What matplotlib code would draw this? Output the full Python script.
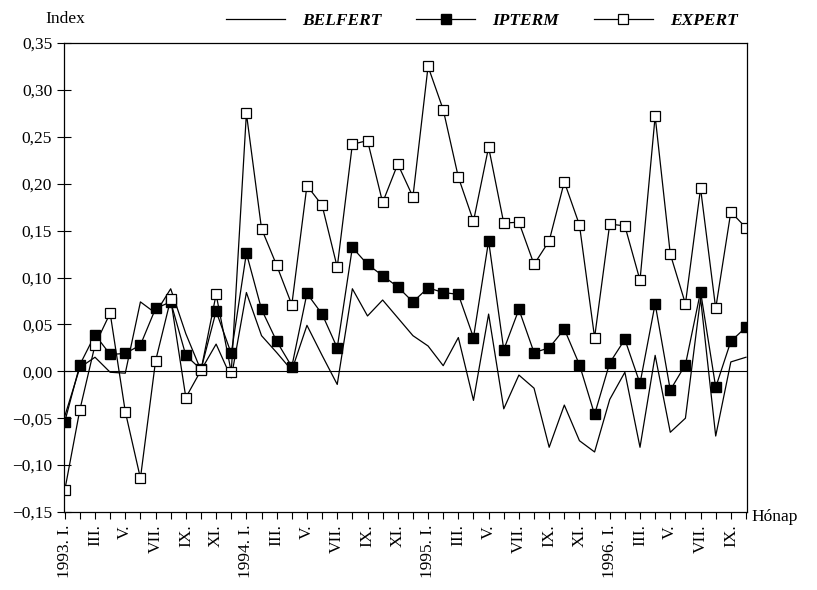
import matplotlib.pyplot as plt
import numpy as np

plt.rcParams['font.family'] = ['Liberation Serif', 'DejaVu Serif']

# monthly index values, 1993 I .. 1996 X
belfert = [-0.048, 0.004, 0.015, -0.001, -0.002, 0.074, 0.062, 0.088, 0.040, 0.001,
           0.029, -0.007, 0.084, 0.038, 0.020, 0.001, 0.049, 0.017, -0.014, 0.088,
           0.059, 0.076, 0.057, 0.038, 0.027, 0.006, 0.036, -0.031, 0.061, -0.040,
           -0.004, -0.018, -0.081, -0.036, -0.074, -0.086, -0.030, -0.001, -0.081, 0.017,
           -0.065, -0.050, 0.078, -0.069, 0.010, 0.015]
ipterm = [-0.054, 0.007, 0.039, 0.018, 0.019, 0.028, 0.067, 0.074, 0.017, 0.002,
          0.064, 0.019, 0.126, 0.066, 0.032, 0.005, 0.083, 0.061, 0.025, 0.132,
          0.114, 0.102, 0.090, 0.074, 0.089, 0.084, 0.082, 0.036, 0.139, 0.023,
          0.066, 0.020, 0.025, 0.045, 0.007, -0.046, 0.009, 0.034, -0.013, 0.072,
          -0.020, 0.007, 0.085, -0.017, 0.032, 0.047]
expert = [-0.127, -0.041, 0.028, 0.062, -0.043, -0.114, 0.011, 0.077, -0.028, 0.001,
          0.082, -0.001, 0.275, 0.152, 0.113, 0.071, 0.198, 0.177, 0.111, 0.242,
          0.246, 0.180, 0.221, 0.186, 0.325, 0.279, 0.207, 0.160, 0.239, 0.158,
          0.159, 0.114, 0.139, 0.202, 0.156, 0.036, 0.157, 0.155, 0.097, 0.272,
          0.125, 0.072, 0.195, 0.067, 0.170, 0.153]

roman = ['I.', 'II.', 'III.', 'IV.', 'V.', 'VI.', 'VII.', 'VIII.', 'IX.', 'X.', 'XI.', 'XII.']
years = [1993, 1994, 1995, 1996]
yticks = [-0.15, -0.10, -0.05, 0.00, 0.05, 0.10, 0.15, 0.20, 0.25, 0.30, 0.35]

x = np.arange(len(belfert))
labels = []
for i in x:
    m = roman[i % 12]
    if i % 12 == 0:
        labels.append('%d. %s' % (years[i // 12], m))
    elif i % 2 == 0:
        labels.append(m)
    else:
        labels.append('')

fig = plt.figure(figsize=(8.17, 5.90), dpi=100)
ax = fig.add_axes([0.0783, 0.1322, 0.8357, 0.7949])

ax.plot(x, belfert, color='black', lw=0.9, label='BELFERT')
ax.plot(x, ipterm, color='black', lw=0.9, marker='s', ms=6.5, mfc='black', mec='black', label='IPTERM')
ax.plot(x, expert, color='black', lw=0.9, marker='s', ms=6.5, mfc='white', mec='black', mew=0.9, label='EXPERT')
ax.axhline(0, color='black', lw=0.8)

ax.set_xlim(-0.05, len(x) - 0.95)
ax.set_ylim(-0.15, 0.35)
ax.set_yticks(yticks)
ax.set_yticklabels([('%.2f' % v).replace('.', ',').replace('-', '\u2212') for v in yticks], fontsize=12.5)
ax.set_xticks(x)
ax.set_xticklabels(labels, rotation=90, fontsize=12.5)
ax.tick_params(axis='x', direction='out', length=5, width=0.8, pad=4)
ax.tick_params(axis='y', direction='inout', length=10, width=0.8)
for s in ax.spines.values():
    s.set_linewidth(0.9)

fig.text(0.055, 0.968, 'Index', fontsize=12.5, ha='left', va='center')
fig.text(0.92, 0.123, 'Hónap', fontsize=12.5, ha='left', va='center')

leg = ax.legend(loc='lower right', bbox_to_anchor=(1.0, 1.012), ncol=3, frameon=False,
                handlelength=3.4, columnspacing=2.0, handletextpad=1.0,
                prop={'style': 'italic', 'weight': 'bold', 'size': 12.5},
                borderaxespad=0.3, borderpad=0.2)

fig.savefig('out.png', dpi=100)
